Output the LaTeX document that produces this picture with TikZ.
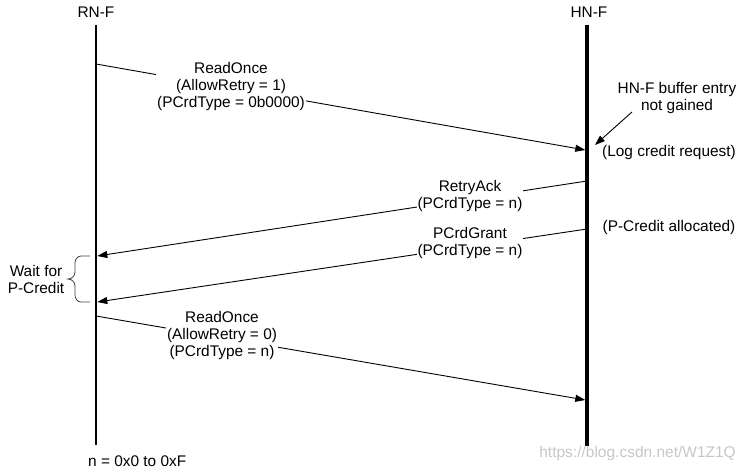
\documentclass[tikz,border=0pt]{standalone}
\usepackage{fontspec}
\setmainfont{Liberation Sans}
\usetikzlibrary{arrows.meta}
\begin{document}
\begin{tikzpicture}[x=1pt,y=-1pt,
  every node/.style={font=\fontsize{15.4}{17}\selectfont, inner sep=1pt},
  msg/.style={line width=0.9pt, -{Triangle[length=10pt,width=7pt]}},
  lbl/.style={align=center, fill=white, inner sep=1pt},
  note/.style={align=center},
  lifeline/.style={line width=#1}]
\useasboundingbox (0,0) rectangle (740,473);

% lifeline heads and ends
\node (rn) at (96,12) {RN-F};
\node (hn) at (589,12) {HN-F};
\coordinate (rnTop) at (96,25);
\coordinate (rnBot) at (96,445);
\coordinate (hnTop) at (587,25);
\coordinate (hnBot) at (587,446);

% message end points
\coordinate (m1s) at (96,64);
\coordinate (m1e) at (585.3,150);
\coordinate (m2s) at (587,181);
\coordinate (m2e) at (97.3,256);
\coordinate (m3s) at (587,229);
\coordinate (m3e) at (97.3,302);
\coordinate (m4s) at (96,316);
\coordinate (m4e) at (585.3,400);

% messages
\draw[msg] (m1s) -- (m1e);
\draw[msg] (m2s) -- (m2e);
\draw[msg] (m3s) -- (m3e);
\draw[msg] (m4s) -- (m4e);

% message labels
\node[lbl] (t1) at (231,87) {ReadOnce\\(AllowRetry = 1)\\(PCrdType = 0b0000)};
\node[lbl] (t2) at (470,196) {RetryAck\\(PCrdType = n)};
\node[lbl] (t3) at (470,243) {PCrdGrant\\(PCrdType = n)};
\node[lbl] (t4) at (222,336) {ReadOnce\\(AllowRetry = 0)\\(PCrdType = n)};

% lifelines
\draw[lifeline=2.5pt] (rnTop) -- (rnBot);
\draw[lifeline=3.5pt] (hnTop) -- (hnBot);

% HN-F notes
\node[note] (nb) at (677,98) {HN-F buffer entry\\not gained};
\coordinate (nbA) at (632,112);
\coordinate (nbB) at (595,145);
\draw[msg] (nbA) -- (nbB);
\node[note] (lc) at (669,153) {(Log credit request)};
\node[note] (pc) at (669,228) {(P-Credit allocated)};

% wait brace
\draw[line width=0.8pt, black!75]
  (90,256) -- (81,256) to[out=180,in=90] (75,263) -- (75,272)
  to[out=270,in=0] (68,279) to[out=0,in=90] (75,286) -- (75,295)
  to[out=270,in=180] (81,302) -- (90,302);
\node[note] (wt) at (36,279) {Wait for\\P-Credit};

% footnote
\node[anchor=west] (fn) at (87,461) {n = 0x0 to 0xF};

% watermark
\node[anchor=east, text=black!22, font=\fontsize{15.5}{17}\selectfont] (wm) at (737,453) {https://blog.csdn.net/W1Z1Q};
\end{tikzpicture}
\end{document}
